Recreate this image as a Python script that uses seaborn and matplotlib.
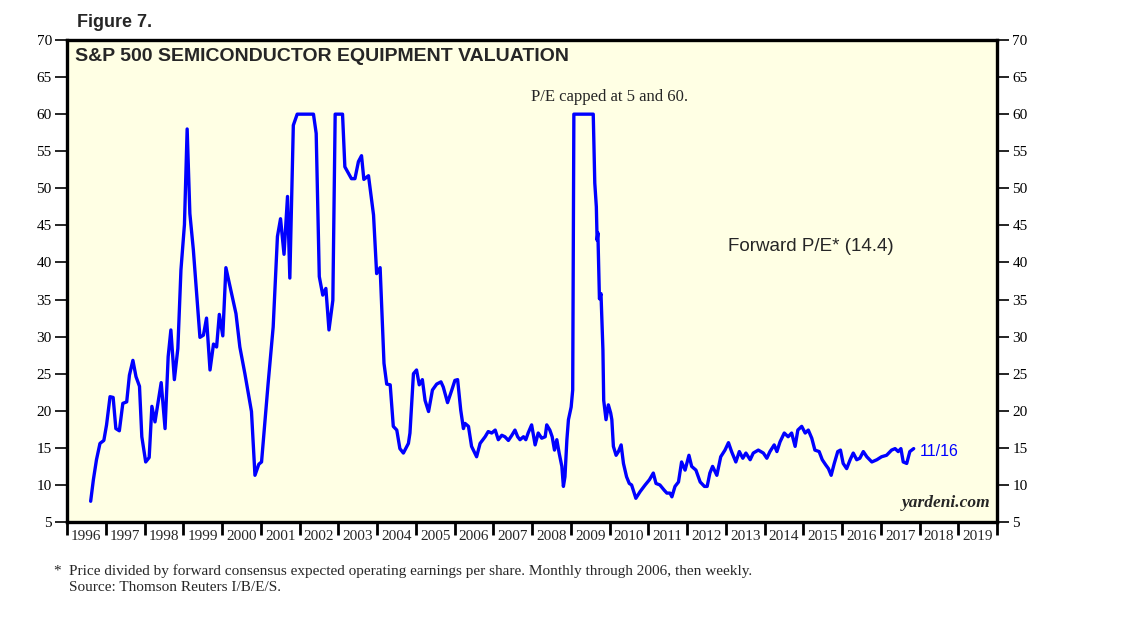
import matplotlib
matplotlib.use("Agg")
import matplotlib.pyplot as plt
import seaborn as sns
import pandas as pd
from matplotlib.ticker import FixedLocator, NullFormatter

# decimal year dates and forward P/E (capped at 5 and 60)
dates = [
    1996.61, 1996.68, 1996.76, 1996.85, 1996.95, 1997.02, 1997.11, 1997.19, 1997.26, 1997.35,
    1997.44, 1997.54, 1997.61, 1997.70, 1997.78, 1997.87, 1997.93, 1998.03, 1998.12, 1998.19,
    1998.27, 1998.43, 1998.53, 1998.61, 1998.68, 1998.77, 1998.86, 1998.94, 1999.03, 1999.10,
    1999.17, 1999.26, 1999.43, 1999.52, 1999.60, 1999.69, 1999.78, 1999.86, 1999.93, 2000.02,
    2000.10, 2000.36, 2000.46, 2000.59, 2000.76, 2000.85, 2000.95, 2001.02, 2001.19, 2001.32,
    2001.43, 2001.51, 2001.60, 2001.69, 2001.75, 2001.84, 2001.94, 2002.36, 2002.43, 2002.51,
    2002.60, 2002.68, 2002.76, 2002.86, 2002.92, 2003.11, 2003.17, 2003.34, 2003.43, 2003.52,
    2003.60, 2003.66, 2003.78, 2003.91, 2003.99, 2004.08, 2004.18, 2004.25, 2004.34, 2004.42,
    2004.51, 2004.59, 2004.68, 2004.81, 2004.85, 2004.94, 2005.02, 2005.09, 2005.17, 2005.24,
    2005.33, 2005.43, 2005.54, 2005.65, 2005.71, 2005.82, 2005.93, 2006.01, 2006.08, 2006.16,
    2006.23, 2006.27, 2006.36, 2006.44, 2006.57, 2006.66, 2006.79, 2006.87, 2006.96, 2007.05,
    2007.13, 2007.22, 2007.30, 2007.39, 2007.48, 2007.56, 2007.63, 2007.69, 2007.78, 2007.84,
    2007.90, 2007.99, 2008.08, 2008.16, 2008.25, 2008.34, 2008.38, 2008.46, 2008.52, 2008.58,
    2008.64, 2008.70, 2008.77, 2008.81, 2008.85, 2008.90, 2008.94, 2009.01, 2009.05, 2009.08,
    2009.58, 2009.62, 2009.66, 2009.68, 2009.70, 2009.74, 2009.78, 2009.83, 2009.85, 2009.91,
    2009.97, 2010.03, 2010.06, 2010.10, 2010.17, 2010.23, 2010.30, 2010.36, 2010.44, 2010.51,
    2010.57, 2010.68, 2010.79, 2010.92, 2011.03, 2011.13, 2011.20, 2011.30, 2011.41, 2011.48,
    2011.56, 2011.61, 2011.69, 2011.78, 2011.86, 2011.95, 2012.05, 2012.12, 2012.23, 2012.34,
    2012.45, 2012.52, 2012.59, 2012.66, 2012.77, 2012.87, 2012.98, 2013.07, 2013.15, 2013.26,
    2013.35, 2013.44, 2013.52, 2013.63, 2013.71, 2013.84, 2013.97, 2014.06, 2014.14, 2014.25,
    2014.32, 2014.40, 2014.51, 2014.61, 2014.70, 2014.79, 2014.86, 2014.96, 2015.05, 2015.13,
    2015.22, 2015.30, 2015.41, 2015.49, 2015.58, 2015.65, 2015.72, 2015.80, 2015.89, 2015.96,
    2016.03, 2016.12, 2016.21, 2016.29, 2016.38, 2016.46, 2016.55, 2016.64, 2016.77, 2016.90,
    2017.02, 2017.15, 2017.28, 2017.37, 2017.45, 2017.52, 2017.58, 2017.67, 2017.75, 2017.85,
]
pe = [
    7.8, 10.7, 13.4, 15.6, 16.0, 18.1, 21.9, 21.8, 17.6, 17.3,
    21.0, 21.2, 24.8, 26.8, 24.6, 23.3, 16.5, 13.1, 13.7, 20.6,
    18.5, 23.8, 17.6, 27.3, 30.9, 24.2, 28.4, 39.0, 45.1, 58.0,
    46.6, 41.7, 29.9, 30.2, 32.5, 25.5, 29.0, 28.6, 33.0, 30.1,
    39.3, 33.1, 28.6, 25.0, 19.9, 11.3, 12.8, 13.1, 23.7, 31.3,
    43.5, 45.9, 41.1, 48.9, 37.9, 58.5, 60.0, 60.0, 57.4, 38.1,
    35.6, 36.5, 30.9, 34.9, 60.0, 60.0, 52.9, 51.3, 51.3, 53.6,
    54.4, 51.2, 51.7, 46.4, 38.5, 39.3, 26.4, 23.6, 23.5, 17.9,
    17.4, 14.9, 14.3, 15.6, 17.0, 25.0, 25.5, 23.5, 24.2, 21.4,
    19.9, 22.8, 23.6, 23.9, 23.2, 21.1, 22.8, 24.1, 24.2, 20.1,
    17.6, 18.3, 17.9, 15.2, 13.8, 15.6, 16.5, 17.2, 17.0, 17.4,
    16.1, 16.7, 16.5, 16.0, 16.7, 17.4, 16.5, 16.1, 16.5, 16.1,
    17.0, 18.1, 15.4, 17.0, 16.3, 16.5, 18.1, 17.4, 16.5, 14.7,
    16.1, 14.3, 12.5, 9.8, 11.1, 16.1, 18.8, 20.5, 22.8, 60.0,
    60.0, 50.7, 47.5, 43.0, 44.0, 35.1, 35.8, 28.2, 21.4, 18.8,
    20.8, 19.7, 18.8, 15.2, 14.0, 14.5, 15.4, 12.9, 11.1, 10.2,
    10.0, 8.2, 9.1, 10.0, 10.7, 11.6, 10.2, 10.0, 9.3, 8.9,
    8.9, 8.4, 9.8, 10.4, 13.1, 12.0, 14.0, 12.5, 12.0, 10.4,
    9.8, 9.8, 11.6, 12.5, 11.3, 13.8, 14.7, 15.7, 14.5, 13.1,
    14.5, 13.6, 14.3, 13.4, 14.3, 14.7, 14.3, 13.6, 14.5, 15.4,
    14.5, 15.8, 17.0, 16.5, 17.0, 15.2, 17.4, 17.9, 17.0, 17.4,
    16.3, 14.7, 14.5, 13.4, 12.7, 12.2, 11.3, 12.9, 14.5, 14.7,
    12.9, 12.2, 13.4, 14.3, 13.4, 13.6, 14.5, 13.8, 13.1, 13.4,
    13.8, 14.0, 14.7, 14.9, 14.5, 14.9, 13.1, 12.9, 14.5, 14.9,
]
year_ticks = list(range(1996, 2021))
year_labels = [str(y) for y in range(1996, 2020)]
y_ticks = list(range(5, 75, 5))

df = pd.DataFrame({"date": dates, "pe": pe})

sns.set_style("ticks")
plt.rcParams["font.family"] = ["Liberation Serif", "DejaVu Serif"]

fig = plt.figure(figsize=(11.38, 6.3), dpi=100)
ax = fig.add_axes([0.0589, 0.1714, 0.8172, 0.7651])
ax.set_facecolor("#ffffe4")

sns.lineplot(data=df, x="date", y="pe", ax=ax, color="#0000ff", linewidth=2.4)

ax.set_xlim(1996, 2020)
ax.set_ylim(5, 70)
ax.set_xlabel("")
ax.set_ylabel("")

# y axis on both sides
ax.set_yticks(y_ticks)
ax.tick_params(axis="y", which="major", direction="out", length=8.5, width=1.2,
               labelsize=11, left=True, right=True, labelleft=True, labelright=True,
               pad=2.5, colors="black")
# years: ticks at boundaries, labels centred in between
ax.xaxis.set_major_locator(FixedLocator(year_ticks))
ax.xaxis.set_major_formatter(NullFormatter())
ax.xaxis.set_minor_locator(FixedLocator([y + 0.5 for y in range(1996, 2020)]))
ax.set_xticklabels(year_labels, minor=True)
ax.tick_params(axis="x", which="major", direction="out", length=9, width=2, colors="black")
ax.tick_params(axis="x", which="minor", length=0, labelsize=11, pad=5.5)

for s in ax.spines.values():
    s.set_linewidth(2.4)
    s.set_color("black")

sans = ["Liberation Sans", "DejaVu Sans"]
fig.text(0.0677, 0.965, "Figure 7.", fontsize=13, fontweight="bold", family=sans, va="center")
ax.text(0.009, 0.965, "S&P 500 SEMICONDUCTOR EQUIPMENT VALUATION", transform=ax.transAxes,
        fontsize=14, fontweight="bold", family=sans, va="center")
ax.text(0.583, 0.882, "P/E capped at 5 and 60.", transform=ax.transAxes,
        fontsize=12, ha="center", va="center")
ax.text(0.711, 0.571, "Forward P/E* (14.4)", transform=ax.transAxes,
        fontsize=13.5, family=sans, va="center")
ax.text(2018.01, 14.5, "11/16", fontsize=11.5, family=sans, color="#0000ff", va="center")
ax.text(0.993, 0.022, "yardeni.com", transform=ax.transAxes, fontsize=12.5,
        fontweight="bold", style="italic", ha="right", va="bottom")

fig.text(0.047, 0.093, "*", fontsize=11, va="center")
fig.text(0.0606, 0.093, "Price divided by forward consensus expected operating earnings per share. "
         "Monthly through 2006, then weekly.", fontsize=11, va="center")
fig.text(0.0606, 0.068, "Source: Thomson Reuters I/B/E/S.", fontsize=11, va="center")

fig.savefig("out.png", dpi=100)
